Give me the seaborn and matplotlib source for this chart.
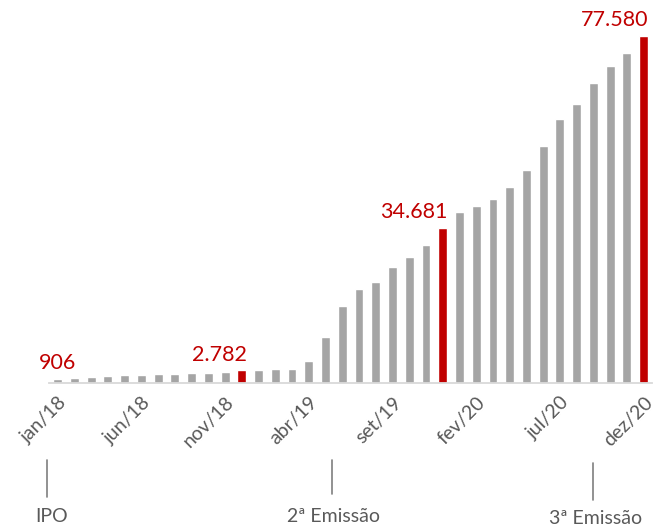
import numpy as np
import pandas as pd
import matplotlib
matplotlib.use("Agg")
import matplotlib.pyplot as plt
import matplotlib.transforms as mtransforms
import seaborn as sns

# === Data ===
months = [
    "jan/18", "fev/18", "mar/18", "abr/18", "mai/18", "jun/18",
    "jul/18", "ago/18", "set/18", "out/18", "nov/18", "dez/18",
    "jan/19", "fev/19", "mar/19", "abr/19", "mai/19", "jun/19",
    "jul/19", "ago/19", "set/19", "out/19", "nov/19", "dez/19",
    "jan/20", "fev/20", "mar/20", "abr/20", "mai/20", "jun/20",
    "jul/20", "ago/20", "set/20", "out/20", "nov/20", "dez/20",
]
values = [
    906, 1150, 1200, 1550, 1750, 1800,
    1850, 2000, 2100, 2250, 2350, 2782,
    2900, 3050, 3100, 4900, 10300, 17200,
    21000, 22500, 25900, 28100, 30800, 34681,
    38200, 39600, 41100, 43800, 47600, 53000,
    59000, 62400, 67100, 70900, 73800, 77580,
]
highlight_months = ["jan/18", "dez/18", "dez/19", "dez/20"]
red_bar_months = ["dez/18", "dez/19", "dez/20"]
event_labels = ["IPO", "2ª Emissão", "3ª Emissão"]

df = pd.DataFrame({"mes": months, "valor": values})
df["grupo"] = np.where(df["mes"].isin(red_bar_months), "destaque", "normal")

# === Style ===
sns.set_style("white")
plt.rcParams["font.family"] = ["Lato", "DejaVu Sans"]
RED = "#C00000"
GRAY = "#A5A5A5"
TXT = "#595959"

W, H = 664, 529
fig = plt.figure(figsize=(W / 100, H / 100), dpi=100)
ax_left, ax_right = 49.3, 652.0
base_y, top_y, max_y = 382.7, 5.0, 36.0
ax = fig.add_axes([ax_left / W, (H - base_y) / H,
                   (ax_right - ax_left) / W, (base_y - top_y) / H])

sns.barplot(data=df, x="mes", y="valor", hue="grupo",
            palette={"destaque": RED, "normal": GRAY}, saturation=1,
            dodge=False, width=0.53, legend=False, ax=ax)

ymax = max(values) * (base_y - top_y) / (base_y - max_y)
ax.set_xlim(-0.5, len(months) - 0.5)
ax.set_ylim(0, ymax)

# value labels
for m in highlight_months:
    i = months.index(m)
    v = values[i]
    txt = f"{v:,}".replace(",", ".")
    if i == 0:
        ax.annotate(txt, (i, v), xytext=(0, 7), textcoords="offset points",
                    ha="center", va="baseline", color=RED, fontsize=15.5)
    else:
        ax.annotate(txt, (i + 0.3, v), xytext=(0, 7), textcoords="offset points",
                    ha="right", va="baseline", color=RED, fontsize=15.5)

# axes cosmetics
for s in ["top", "right", "left"]:
    ax.spines[s].set_visible(False)
ax.spines["bottom"].set_color("#D9D9D9")
ax.spines["bottom"].set_linewidth(1.3)
ax.set_yticks([])
ax.set_xlabel("")
ax.set_ylabel("")
ax.set_xticks(range(0, len(months), 5))
ax.set_xticklabels(months[::5], rotation=45, ha="right",
                   rotation_mode="anchor", color=TXT, fontsize=14)
ax.tick_params(axis="x", which="major", length=0, pad=8)
ax.set_xticks(np.arange(-0.5, len(months) - 1, 5), minor=True)
ax.tick_params(axis="x", which="minor", length=4.5, width=1.1, color="#D9D9D9")

# event markers below the axis
trans = mtransforms.blended_transform_factory(ax.transData, fig.transFigure)
event_x = [-0.63, 16.4, 32.0]
line_y = [(460, 497), (460, 494), (463, 500)]
text_y = [516, 516, 519]
for lab, x, (y0, y1), ty in zip(event_labels, event_x, line_y, text_y):
    ax.plot([x, x], [1 - y0 / H, 1 - y1 / H], transform=trans,
            color="#7F7F7F", lw=1.2, clip_on=False)
    ax.text(x + (0.25 if lab == "IPO" else 0.1), 1 - ty / H, lab,
            transform=trans, ha="center", va="center",
            color=TXT, fontsize=14)

fig.savefig("out.png", dpi=100)
